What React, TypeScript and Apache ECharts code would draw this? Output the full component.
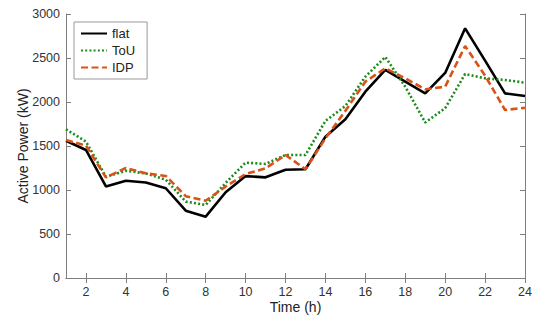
import React, { useEffect, useRef } from "react";
import * as echarts from "echarts";

const hours = Array.from({ length: 24 }, (_, i) => i + 1);
const flat = [1560, 1455, 1040, 1105, 1085, 1020, 765, 697, 975, 1158, 1144, 1230, 1236, 1606, 1803, 2117, 2364, 2231, 2098, 2330, 2837, 2470, 2098, 2068];
const tou = [1690, 1550, 1150, 1218, 1188, 1118, 868, 830, 1080, 1311, 1296, 1398, 1398, 1785, 1955, 2288, 2512, 2174, 1767, 1930, 2318, 2269, 2250, 2220];
const idp = [1568, 1505, 1144, 1250, 1189, 1160, 930, 878, 1040, 1182, 1246, 1398, 1236, 1587, 1900, 2231, 2383, 2269, 2144, 2174, 2636, 2300, 1909, 1935];
const xTicks = [2, 4, 6, 8, 10, 12, 14, 16, 18, 20, 22, 24];

const axisColor = "#7f7f7f";
const textColor = "#333333";
const font = "Liberation Sans, Arial, sans-serif";

export default function App() {
  const ref = useRef<HTMLDivElement>(null);
  useEffect(() => {
    const chart = echarts.init(ref.current!, undefined, { renderer: "svg" });
    const mk = (name: string, data: number[], color: string, type: any) => ({
      name,
      type: "line",
      data: data.map((v, i) => [hours[i], v]),
      symbol: "none",
      lineStyle: { color, width: 2.6, type, cap: "butt" },
      itemStyle: { color },
      xAxisIndex: 0,
      yAxisIndex: 0,
    });
    chart.setOption({
      animation: false,
      backgroundColor: "#ffffff",
      grid: { left: 66, right: 25, top: 14, bottom: 43, containLabel: false, outerBoundsMode: "none" },
      legend: {
        orient: "vertical",
        left: 74,
        top: 22,
        itemWidth: 26,
        itemHeight: 12,
        itemGap: 4,
        padding: [5, 12, 5, 6],
        borderColor: "#999999",
        borderWidth: 1,
        backgroundColor: "#ffffff",
        itemStyle: { opacity: 0 },
        textStyle: { color: "#222", fontSize: 13, fontFamily: font },
        data: ["flat", "ToU", "IDP"],
      },
      xAxis: [
        {
          type: "value",
          min: 1,
          max: 24,
          name: "Time (h)",
          nameLocation: "middle",
          nameGap: 22,
          nameMoveOverlap: false,
          nameTextStyle: { color: "#222", fontSize: 14, fontFamily: font },
          axisLine: { lineStyle: { color: axisColor, width: 1 } },
          axisTick: { inside: true, length: 5, lineStyle: { color: axisColor }, customValues: xTicks },
          axisLabel: { color: textColor, fontSize: 12.5, fontFamily: font, margin: 7, customValues: xTicks },
          splitLine: { show: false },
        },
        {
          type: "value",
          position: "top",
          min: 1,
          max: 24,
          axisLine: { show: true, lineStyle: { color: axisColor, width: 1 } },
          axisTick: { show: true, inside: true, length: 5, lineStyle: { color: axisColor }, customValues: xTicks },
          axisLabel: { show: false, customValues: xTicks },
          splitLine: { show: false },
        },
      ],
      yAxis: [
        {
          type: "value",
          min: 0,
          max: 3000,
          interval: 500,
          name: "Active Power (kW)",
          nameLocation: "middle",
          nameGap: 36,
          nameMoveOverlap: false,
          nameTextStyle: { color: "#222", fontSize: 14, fontFamily: font },
          axisLine: { show: true, lineStyle: { color: axisColor, width: 1 } },
          axisTick: { show: true, inside: true, length: 5, lineStyle: { color: axisColor } },
          axisLabel: { color: textColor, fontSize: 12.5, fontFamily: font, margin: 6, formatter: (v: number) => String(v) },
          splitLine: { show: false },
        },
        {
          type: "value",
          position: "right",
          min: 0,
          max: 3000,
          interval: 500,
          axisLine: { show: true, lineStyle: { color: axisColor, width: 1 } },
          axisTick: { show: true, inside: true, length: 5, lineStyle: { color: axisColor } },
          axisLabel: { show: false },
          splitLine: { show: false },
        },
      ],
      series: [
        mk("flat", flat, "#000000", "solid"),
        mk("ToU", tou, "#1a8a1a", [2, 2.2]),
        mk("IDP", idp, "#d95319", [7, 3.5]),
      ],
    });
    return () => chart.dispose();
  }, []);
  return <div ref={ref} style={{ width: 550, height: 321, position: "absolute", left: 0, top: 0 }} />;
}
